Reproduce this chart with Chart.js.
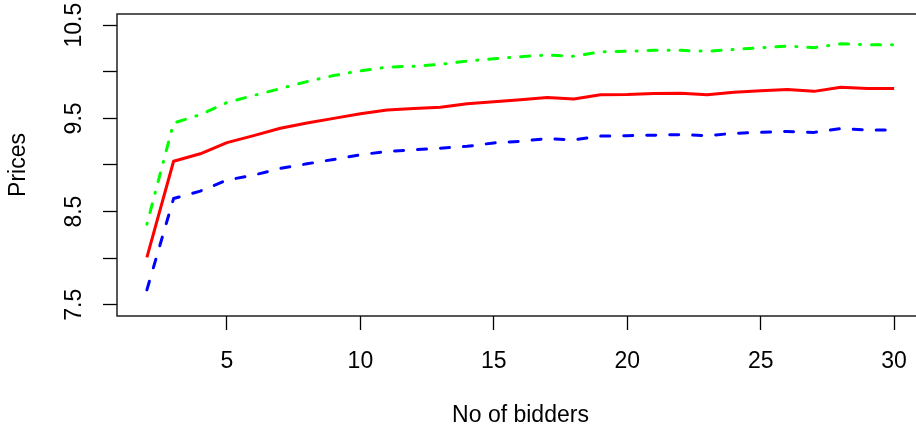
<!DOCTYPE html>
<html>
<head>
<meta charset="utf-8">
<script src="https://cdn.jsdelivr.net/npm/chart.js@4"></script>
<style>
  html, body { margin: 0; padding: 0; background: #fff; overflow: hidden; }
  /* plot box runs a few px past the right edge of the window, as in the reference */
  #wrap { width: 924px; height: 427px; }
</style>
</head>
<body>
<div id="wrap"><canvas id="chart"></canvas></div>
<script>
// ----- data -----
const X_BIDDERS = [2, 3, 4, 5, 6, 7, 8, 9, 10, 11, 12, 13, 14, 15, 16,
                   17, 18, 19, 20, 21, 22, 23, 24, 25, 26, 27, 28, 29, 30];

const PRICE_MID = [8.01, 9.04, 9.12, 9.24, 9.315, 9.395, 9.45, 9.50, 9.55, 9.59,
                   9.607, 9.62, 9.657, 9.678, 9.70, 9.724, 9.707, 9.753, 9.756, 9.767,
                   9.77, 9.753, 9.78, 9.796, 9.81, 9.79, 9.835, 9.82, 9.82];

const PRICE_LOW = [7.66, 8.64, 8.72, 8.838, 8.892, 8.963, 9.013, 9.06, 9.11, 9.145,
                   9.163, 9.18, 9.20, 9.237, 9.255, 9.283, 9.27, 9.31, 9.315, 9.32,
                   9.326, 9.315, 9.34, 9.35, 9.36, 9.35, 9.39, 9.376, 9.376];

const PRICE_HIGH = [8.365, 9.45, 9.54, 9.67, 9.746, 9.82, 9.895, 9.96, 10.01, 10.05,
                    10.06, 10.08, 10.116, 10.14, 10.162, 10.18, 10.166, 10.215, 10.22, 10.23,
                    10.23, 10.22, 10.24, 10.258, 10.276, 10.258, 10.30, 10.29, 10.29];

const X_TICKS = [5, 10, 15, 20, 25, 30];
const Y_TICKS = [7.5, 8, 8.5, 9, 9.5, 10, 10.5];
const Y_TICK_LABELS = ["7.5", "8.5", "9.5", "10.5"];   // R drops the in-between ones

const FONT = "'Liberation Sans', Arial, Helvetica, sans-serif";
const INK = "#000";

const pts = (ys) => X_BIDDERS.map((x, i) => ({ x, y: ys[i] }));

// box round the plot region (R's box())
const boxPlugin = {
  id: "box",
  afterDraw(chart) {
    const { ctx, chartArea: a } = chart;
    ctx.save();
    ctx.strokeStyle = "#111";
    ctx.lineWidth = 1.4;
    ctx.strokeRect(a.left, a.top, a.right - a.left, a.bottom - a.top);
    ctx.restore();
  },
};

new Chart(document.getElementById("chart"), {
  type: "line",
  data: {
    datasets: [
      {
        label: "mid",
        data: pts(PRICE_MID),
        borderColor: "#ff0000",
        borderWidth: 3,
        pointRadius: 0,
        tension: 0,
        borderJoinStyle: "round",
      },
      {
        label: "low",
        data: pts(PRICE_LOW),
        borderColor: "#0000ff",
        borderWidth: 3,
        borderDash: [9, 14],
        borderCapStyle: "round",
        borderJoinStyle: "round",
        pointRadius: 0,
        tension: 0,
      },
      {
        label: "high",
        data: pts(PRICE_HIGH),
        borderColor: "#00ff00",
        borderWidth: 3,
        borderDash: [1, 11, 9, 11],
        borderCapStyle: "round",
        borderJoinStyle: "round",
        pointRadius: 0,
        tension: 0,
      },
    ],
  },
  options: {
    responsive: true,
    maintainAspectRatio: false,
    animation: false,
    events: [],
    layout: { padding: { top: 14, left: 0, right: 0, bottom: 0 } },
    plugins: { legend: { display: false }, tooltip: { enabled: false } },
    scales: {
      x: {
        type: "linear",
        min: 0.88,
        max: 31.12,
        afterBuildTicks: (s) => { s.ticks = X_TICKS.map(v => ({ value: v })); },
        afterFit: (s) => { s.height = 111; s.paddingLeft = 0; s.paddingRight = 0; },
        grid: { drawOnChartArea: false, drawTicks: true, tickLength: 14,
                tickColor: INK, tickWidth: 1.3 },
        border: { display: false },
        ticks: { color: INK, font: { family: FONT, size: 23 }, padding: 18,
                 maxRotation: 0, autoSkip: false },
        title: { display: true, text: "No of bidders", color: INK,
                 font: { family: FONT, size: 23, lineHeight: 1 },
                 padding: { top: 0, bottom: 0 } },
      },
      y: {
        type: "linear",
        min: 7.38,
        max: 10.62,
        afterBuildTicks: (s) => { s.ticks = Y_TICKS.map(v => ({ value: v })); },
        afterFit: (s) => { s.width = 117; s.paddingTop = 0; s.paddingBottom = 0; },
        grid: { drawOnChartArea: false, drawTicks: true, tickLength: 14,
                tickColor: INK, tickWidth: 1.3 },
        border: { display: false },
        ticks: {
          color: INK, font: { family: FONT, size: 23 },
          minRotation: 90, maxRotation: 90, crossAlign: "center",
          padding: 6, autoSkip: false,
          callback: (v) => {
            const s = String(v);
            return Y_TICK_LABELS.includes(s) ? s : "";
          },
        },
        title: { display: true, text: "Prices", color: INK,
                 font: { family: FONT, size: 23, lineHeight: 1 },
                 padding: { top: 6.8, bottom: 0 } },
      },
    },
  },
  plugins: [boxPlugin],
});
</script>
</body>
</html>
